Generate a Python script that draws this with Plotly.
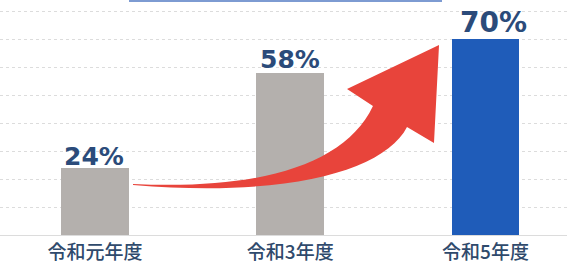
import plotly.graph_objects as go

categories = ["令和元年度", "令和3年度", "令和5年度"]
values = [24, 58, 70]
value_labels = ["24%", "58%", "70%"]
bar_colors = ["#b4b0ad", "#b4b0ad", "#1f5cb9"]

W, H = 567, 264
PLOT_H = 235  # plot area height (px)
x_unit = 195.25
xmin = -95 / x_unit
xmax = xmin + W / x_unit
ymax = PLOT_H / 2.8

fig = go.Figure()
fig.add_trace(go.Bar(
    x=list(range(len(categories))), y=values,
    marker=dict(color=bar_colors, line=dict(width=0)),
    width=0.348, hoverinfo="skip",
))

# value labels
label_sizes = [25, 25, 28]
label_xshift = [-1, 0, 8]
label_yshift = [-5, -3, -2]
for i, (v, t) in enumerate(zip(values, value_labels)):
    fig.add_annotation(
        x=i, y=v, text=f"<b>{t}</b>", showarrow=False,
        xanchor="center", yanchor="bottom",
        xshift=label_xshift[i], yshift=label_yshift[i],
        font=dict(family="DejaVu Sans, sans-serif", size=label_sizes[i], color="#2b4b7a"),
    )

# curved red arrow (decoration), in paper coordinates from pixel positions
def P(px, py):
    return f"{px / W:.4f},{(PLOT_H - py) / PLOT_H:.4f}"

path = (
    f"M {P(133, 184)} "
    f"C {P(260, 190)} {P(345, 165)} {P(373, 106)} "
    f"L {P(347, 89)} L {P(439, 45)} L {P(434, 143)} L {P(407, 127)} "
    f"C {P(385, 170)} {P(290, 198)} {P(133, 185)} Z"
)
fig.add_shape(type="path", path=path, xref="paper", yref="paper",
              fillcolor="#e8443b", line=dict(width=0), layer="above")

# thin blue rule at top
fig.add_shape(type="line", xref="paper", yref="paper",
              x0=129 / W, x1=442 / W, y0=(PLOT_H - 1) / PLOT_H, y1=(PLOT_H - 1) / PLOT_H,
              line=dict(color="#7d9bd2", width=2))

fig.update_layout(
    width=W, height=H,
    margin=dict(l=0, r=0, t=0, b=H - PLOT_H, autoexpand=False),
    paper_bgcolor="white", plot_bgcolor="white",
    showlegend=False, bargap=0,
    xaxis=dict(
        range=[xmin, xmax], tickmode="array",
        tickvals=list(range(len(categories))), ticktext=categories,
        showgrid=False, zeroline=False, showline=False, ticks="",
        tickfont=dict(family="Noto Sans CJK JP", size=19, color="#2f4a6c", weight=500),
        ticklabelstandoff=4, automargin=False, fixedrange=True,
    ),
    yaxis=dict(
        range=[0, ymax], tick0=0, dtick=10, showticklabels=False,
        showgrid=True, gridcolor="#dcdcdc", griddash="dot", gridwidth=1,
        zeroline=True, zerolinecolor="#dcdcdc", zerolinewidth=1,
        showline=False, ticks="", automargin=False, fixedrange=True,
    ),
)

fig.write_html("out.html", config={"displayModeBar": False},
               post_script="document.body.style.margin='0';document.body.style.overflow='hidden';")
